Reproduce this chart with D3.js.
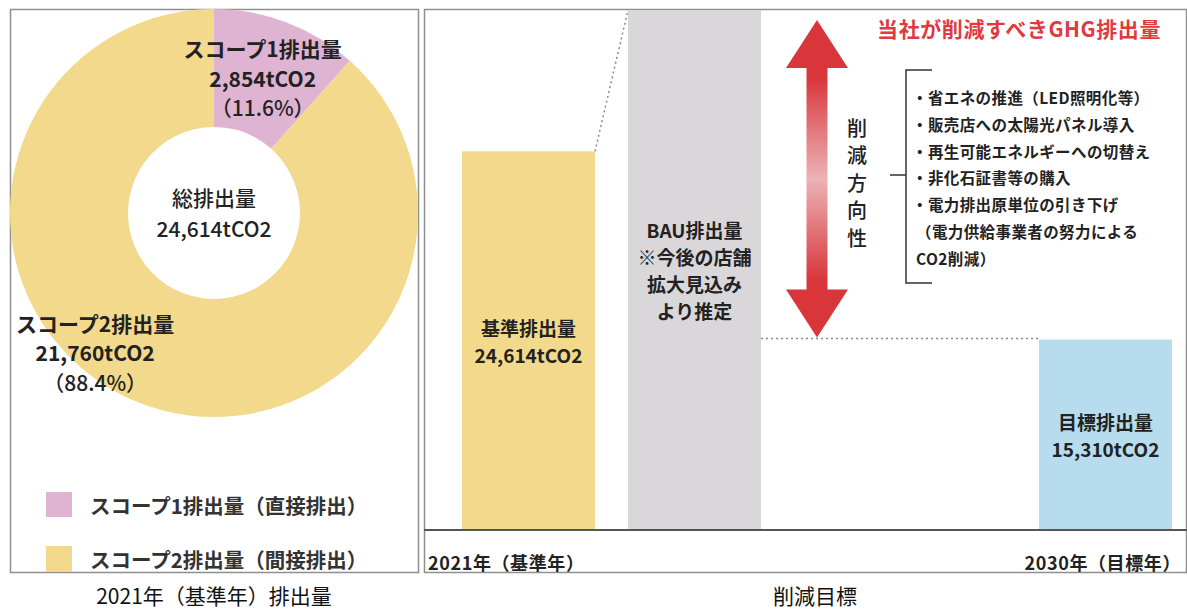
<!DOCTYPE html>
<html>
<head>
<meta charset="utf-8">
<script src="https://cdn.jsdelivr.net/npm/d3@7"></script>
<style>
  html, body { margin: 0; padding: 0; background: #fff; }
  svg { display: block; font-family: "Noto Sans CJK JP", "Noto Sans", sans-serif; }
</style>
</head>
<body>
<div id="chart"></div>
<script>
// left: 2021 emissions by scope
const scopeNames = ["スコープ1排出量", "スコープ2排出量"];
const scopeValues = [2854, 21760];
const scopeShares = ["11.6%", "88.4%"];
const legendNames = ["スコープ1排出量（直接排出）", "スコープ2排出量（間接排出）"];
const scopeColors = ["#dfb4d3", "#f2d98b"];

// right: reduction target (BAU is not labelled)
const barKeys = ["基準", "BAU", "目標"];
const barValues = [24614, 31600, 15310];
const barTexts = [
  ["基準排出量", "24,614tCO2"],
  ["BAU排出量", "※今後の店舗", "拡大見込み", "より推定"],
  ["目標排出量", "15,310tCO2"]
];
const barColors = ["#f2d98b", "#d9d7d9", "#b7dcee"];
const yearLabels = ["2021年（基準年）", "2030年（目標年）"];
const measures = [
  "・省エネの推進（LED照明化等）",
  "・販売店への太陽光パネル導入",
  "・再生可能エネルギーへの切替え",
  "・非化石証書等の購入",
  "・電力排出原単位の引き下げ",
  "（電力供給事業者の努力による",
  "CO2削減）"
];
const arrowText = "削減方向性";
const redTitle = "当社が削減すべきGHG排出量";
const captions = ["2021年（基準年）排出量", "削減目標"];

const w = 1187, h = 609;
const svg = d3.select("#chart").append("svg")
  .attr("width", w).attr("height", h)
  .attr("viewBox", [0, 0, w, h]);

const ink = "#222";

// ---------- left panel ----------
const cx = 214, cy = 213;
const rOuter = 204, rInner = 86;

svg.append("rect")
  .attr("x", 10.5).attr("y", 9.5)
  .attr("width", 408).attr("height", 563)
  .attr("fill", "none").attr("stroke", "#8f8f8f").attr("stroke-width", 1.5);

const pie = d3.pie().sort(null).value(d => d)(scopeValues);
const arc = d3.arc().innerRadius(rInner).outerRadius(rOuter);

const donut = svg.append("g").attr("transform", `translate(${cx},${cy})`);
donut.selectAll("path")
  .data(pie)
  .join("path")
    .attr("d", arc)
    .attr("fill", (d, i) => scopeColors[i]);

// label anchors: scope1 on its centroid, scope2 further round to the lower left
const polar = (deg, r) => [r * Math.sin(deg * Math.PI / 180), -r * Math.cos(deg * Math.PI / 180)];
const labelAt = [d => arc.centroid(d), () => polar(220.5, 183)];

pie.forEach((d, i) => {
  const [lx, ly] = labelAt[i](d);
  const lines = [scopeNames[i], d3.format(",")(scopeValues[i]) + "tCO2", "（" + scopeShares[i] + "）"];
  donut.append("g")
    .selectAll("text")
    .data(lines)
    .join("text")
      .attr("x", lx - (i === 0 ? 3 : 0))
      .attr("y", (t, j) => ly + (j - 1) * 29.5)
      .attr("text-anchor", "middle")
      .attr("dominant-baseline", "central")
      .attr("font-size", 21)
      .attr("font-weight", (t, j) => j === 2 ? 500 : 700)
      .attr("fill", ink)
      .text(t => t);
});

donut.selectAll("text.total")
  .data(["総排出量", d3.format(",")(d3.sum(scopeValues)) + "tCO2"])
  .join("text")
    .attr("class", "total")
    .attr("x", 0)
    .attr("y", (t, j) => j === 0 ? -16 : 15)
    .attr("text-anchor", "middle")
    .attr("dominant-baseline", "central")
    .attr("font-size", 21)
    .attr("font-weight", 500)
    .attr("fill", ink)
    .text(t => t);

const legend = svg.append("g");
legend.selectAll("rect")
  .data(legendNames)
  .join("rect")
    .attr("x", 46)
    .attr("y", (d, i) => 492 + i * 54)
    .attr("width", 26).attr("height", (d, i) => i === 0 ? 25 : 26)
    .attr("fill", (d, i) => scopeColors[i]);
legend.selectAll("text")
  .data(legendNames)
  .join("text")
    .attr("x", 90)
    .attr("y", (d, i) => 505 + i * 54)
    .attr("dominant-baseline", "central")
    .attr("font-size", 20.5)
    .attr("font-weight", 700)
    .attr("fill", "#333")
    .text(d => d);

// ---------- right panel ----------
svg.append("rect")
  .attr("x", 424.5).attr("y", 9.5)
  .attr("width", 762).attr("height", 563)
  .attr("fill", "none").attr("stroke", "#8f8f8f").attr("stroke-width", 1.5);

const baseY = 530;
// schematic, truncated value axis
const yScale = d3.scaleLinear()
  .domain([5900, 31600])
  .range([baseY, 10]);

const xScale = d3.scaleOrdinal()
  .domain(barKeys)
  .range([462, 628, 1039]);
const barW = 133;

svg.selectAll("rect.bar")
  .data(barKeys)
  .join("rect")
    .attr("class", "bar")
    .attr("x", d => xScale(d))
    .attr("y", (d, i) => yScale(barValues[i]))
    .attr("width", barW)
    .attr("height", (d, i) => baseY - yScale(barValues[i]))
    .attr("fill", (d, i) => barColors[i]);

// dotted connectors
svg.append("line")
  .attr("x1", xScale("基準") + barW).attr("y1", yScale(barValues[0]))
  .attr("x2", xScale("BAU")).attr("y2", yScale(barValues[1]))
  .attr("stroke", "#888").attr("stroke-width", 1.5).attr("stroke-dasharray", "2,3");
svg.append("line")
  .attr("x1", xScale("BAU") + barW).attr("y1", yScale(barValues[2]) - 1)
  .attr("x2", xScale("目標")).attr("y2", yScale(barValues[2]) - 1)
  .attr("stroke", "#888").attr("stroke-width", 1.5).attr("stroke-dasharray", "2,3");

// baseline
svg.append("line")
  .attr("x1", 424).attr("x2", w)
  .attr("y1", baseY).attr("y2", baseY)
  .attr("stroke", "#555").attr("stroke-width", 2);

// bar labels, centred in each bar
barKeys.forEach((k, i) => {
  const mid = (yScale(barValues[i]) + baseY) / 2;
  const lines = barTexts[i];
  svg.append("g")
    .selectAll("text")
    .data(lines)
    .join("text")
      .attr("x", xScale(k) + barW / 2)
      .attr("y", (t, j) => mid + (j - (lines.length - 1) / 2) * 27)
      .attr("text-anchor", "middle")
      .attr("dominant-baseline", "central")
      .attr("font-size", 19)
      .attr("font-weight", 700)
      .attr("fill", ink)
      .text(t => t);
});

// year labels
svg.selectAll("text.year")
  .data(yearLabels)
  .join("text")
    .attr("class", "year")
    .attr("x", (d, i) => i === 0 ? 428 : 1181)
    .attr("y", 562)
    .attr("text-anchor", (d, i) => i === 0 ? "start" : "end")
    .attr("dominant-baseline", "central")
    .attr("font-size", 18)
    .attr("letter-spacing", 0.6)
    .attr("font-weight", 700)
    .attr("fill", ink)
    .text(d => d);

// double arrow from BAU level down to target level
const defs = svg.append("defs");
const grad = defs.append("linearGradient")
  .attr("id", "arrowGrad")
  .attr("x1", 0).attr("y1", 0).attr("x2", 0).attr("y2", 1);
[[0, "#d8363b"], [0.18, "#d8363b"], [0.5, "#ecb3b6"], [0.82, "#d8363b"], [1, "#d8363b"]]
  .forEach(s => grad.append("stop").attr("offset", s[0]).attr("stop-color", s[1]));

const ax = 817;
const aTop = yScale(barValues[1]) + 10;
const aBot = yScale(barValues[2]) - 2;
const headH = 48, headW = 31, shaftW = 10.5;
const arrowPath = d3.path();
arrowPath.moveTo(ax, aTop);
arrowPath.lineTo(ax + headW, aTop + headH);
arrowPath.lineTo(ax + shaftW, aTop + headH);
arrowPath.lineTo(ax + shaftW, aBot - headH);
arrowPath.lineTo(ax + headW, aBot - headH);
arrowPath.lineTo(ax, aBot);
arrowPath.lineTo(ax - headW, aBot - headH);
arrowPath.lineTo(ax - shaftW, aBot - headH);
arrowPath.lineTo(ax - shaftW, aTop + headH);
arrowPath.lineTo(ax - headW, aTop + headH);
arrowPath.closePath();
svg.append("path")
  .attr("d", arrowPath.toString())
  .attr("fill", "url(#arrowGrad)");

// vertical text
svg.selectAll("text.vert")
  .data(arrowText.split(""))
  .join("text")
    .attr("class", "vert")
    .attr("x", 857)
    .attr("y", (d, i) => 127 + i * 27.5)
    .attr("text-anchor", "middle")
    .attr("dominant-baseline", "central")
    .attr("font-size", 20)
    .attr("font-weight", 500)
    .attr("fill", ink)
    .text(d => d);

// bracket
svg.append("path")
  .attr("d", "M932,70H906V283H932M890,175H906")
  .attr("fill", "none").attr("stroke", "#333").attr("stroke-width", 1.5);

svg.selectAll("text.measure")
  .data(measures)
  .join("text")
    .attr("class", "measure")
    .attr("x", (d, i) => i >= 5 ? 916 : 912)
    .attr("y", (d, i) => 97 + i * 26.8)
    .attr("dominant-baseline", "central")
    .attr("font-size", 15.5)
    .attr("letter-spacing", 0.4)
    .attr("font-weight", 700)
    .attr("fill", ink)
    .text(d => d);

svg.append("text")
  .attr("x", 1161).attr("y", 28)
  .attr("text-anchor", "end")
  .attr("dominant-baseline", "central")
  .attr("font-size", 21)
  .attr("letter-spacing", 0.6)
  .attr("font-weight", 700)
  .attr("fill", "#e0393f")
  .text(redTitle);

// captions
svg.selectAll("text.caption")
  .data(captions)
  .join("text")
    .attr("class", "caption")
    .attr("x", (d, i) => i === 0 ? 214 : 815)
    .attr("y", 595)
    .attr("text-anchor", "middle")
    .attr("dominant-baseline", "central")
    .attr("font-size", 21)
    .attr("fill", "#111")
    .text(d => d);
</script>
</body>
</html>
